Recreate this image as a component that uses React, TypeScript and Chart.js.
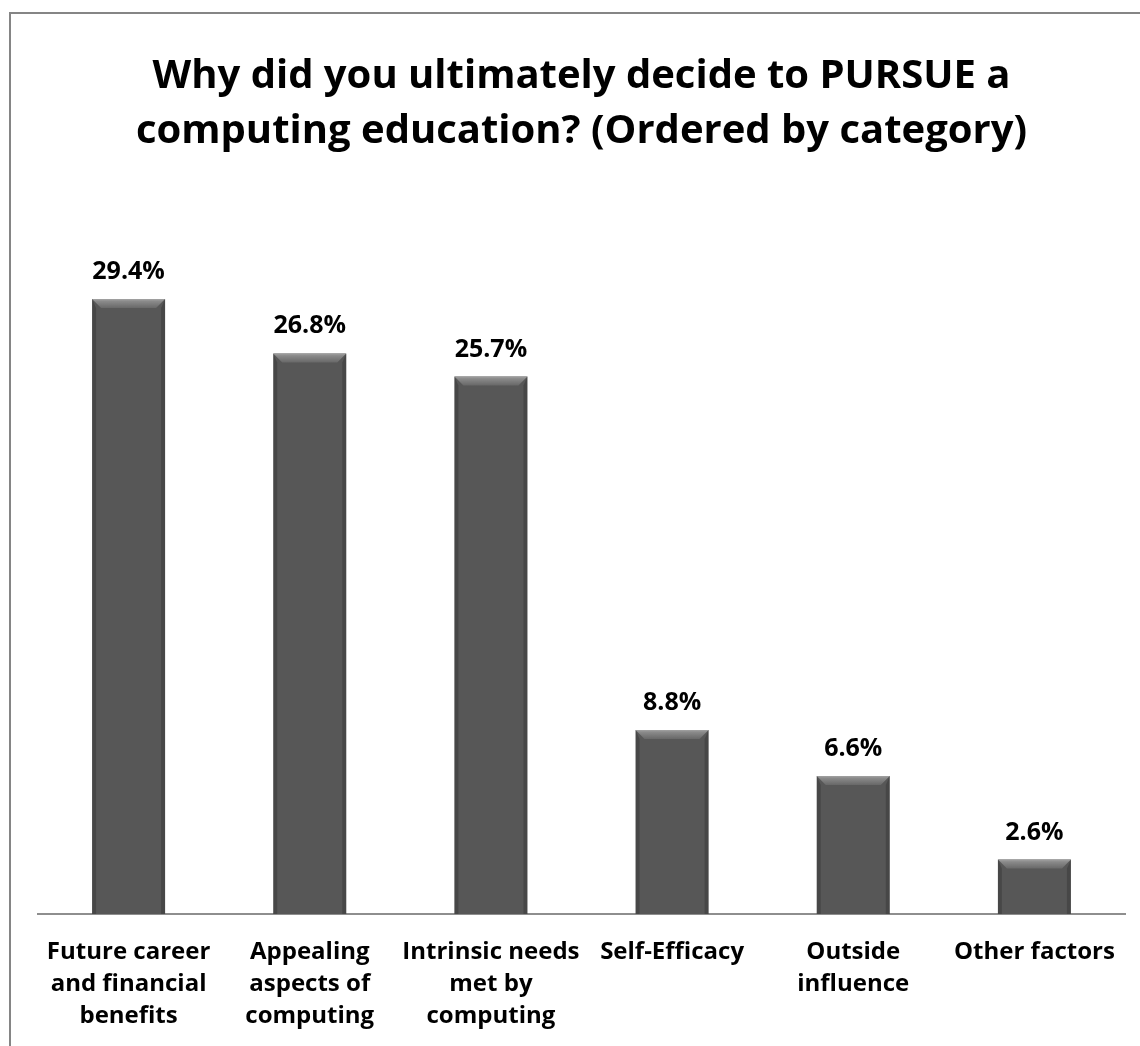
import React, { useEffect, useRef } from "react";
import { Chart, registerables } from "chart.js";

Chart.register(...registerables);

const categories: string[][] = [
  ["Future career", "and financial", "benefits"],
  ["Appealing", "aspects of", "computing"],
  ["Intrinsic needs", "met by", "computing"],
  ["Self-Efficacy"],
  ["Outside", "influence"],
  ["Other factors"],
];
const values: number[] = [29.4, 26.8, 25.7, 8.8, 6.6, 2.6];
const titleLines: string[] = [
  "Why did you ultimately decide to PURSUE a",
  "computing education? (Ordered by category)",
];
const FONT = "'Open Sans', sans-serif";

const bevelPlugin = {
  id: "bevel",
  afterDatasetsDraw(chart: any) {
    const ctx = chart.ctx;
    const meta = chart.getDatasetMeta(0);
    meta.data.forEach((bar: any, i: number) => {
      const { x, y, base, width } = bar.getProps(["x", "y", "base", "width"], true);
      const l = x - width / 2;
      const r = x + width / 2;
      const t = y;
      const b = base;
      const bv = 9;
      ctx.save();
      ctx.fillStyle = "rgba(0,0,0,0.18)";
      ctx.beginPath();
      ctx.moveTo(l, t);
      ctx.lineTo(l + 4, t + bv);
      ctx.lineTo(l + 4, b);
      ctx.lineTo(l, b);
      ctx.closePath();
      ctx.fill();
      ctx.beginPath();
      ctx.moveTo(r, t);
      ctx.lineTo(r - 4, t + bv);
      ctx.lineTo(r - 4, b);
      ctx.lineTo(r, b);
      ctx.closePath();
      ctx.fill();
      const g = ctx.createLinearGradient(0, t, 0, t + bv);
      g.addColorStop(0, "#a2a2a2");
      g.addColorStop(0.25, "#8a8a8a");
      g.addColorStop(1, "#686868");
      ctx.fillStyle = g;
      ctx.beginPath();
      ctx.moveTo(l, t);
      ctx.lineTo(r, t);
      ctx.lineTo(r - bv, t + bv);
      ctx.lineTo(l + bv, t + bv);
      ctx.closePath();
      ctx.fill();
      ctx.fillStyle = "#000";
      ctx.font = `bold 25px ${FONT}`;
      ctx.textAlign = "center";
      ctx.textBaseline = "alphabetic";
      ctx.fillText(values[i].toFixed(1) + "%", x, t - 20);
      ctx.restore();
    });
  },
};

export default function App() {
  const ref = useRef<HTMLCanvasElement | null>(null);
  useEffect(() => {
    if (!ref.current) return;
    const chart = new Chart(ref.current, {
      type: "bar",
      data: {
        labels: categories,
        datasets: [
          {
            data: values,
            backgroundColor: "#575757",
            borderWidth: 0,
            barPercentage: 0.403,
            categoryPercentage: 1,
          },
        ],
      },
      options: {
        animation: false,
        responsive: false,
        events: [],
        layout: { padding: { left: 27, right: 15, top: 0, bottom: -8 } },
        plugins: {
          legend: { display: false },
          tooltip: { enabled: false },
          title: {
            display: true,
            text: titleLines,
            color: "#000",
            font: { family: FONT, size: 40, weight: "bold", lineHeight: 55 / 40 },
            padding: { top: 35, bottom: 23 },
          },
        },
        scales: {
          x: {
            grid: { display: false, drawTicks: false, tickLength: 0 },
            border: { display: true, color: "#8e8e8e", width: 2 },
            ticks: {
              color: "#000",
              font: { family: FONT, size: 24, weight: "bold", lineHeight: 32 / 24 },
              padding: 22,
              maxRotation: 0,
              autoSkip: false,
            },
          },
          y: {
            display: false,
            min: 0,
            max: 35,
          },
        },
      },
      plugins: [bevelPlugin],
    });
    return () => chart.destroy();
  }, []);
  return (
    <div
      style={{
        position: "fixed",
        left: 9,
        top: 12,
        width: 1140,
        height: 1046,
        borderLeft: "2px solid #858585",
        borderTop: "2px solid #858585",
        background: "#fff",
      }}
    >
      <canvas ref={ref} width={1129} height={1032} style={{ display: "block" }} />
    </div>
  );
}
